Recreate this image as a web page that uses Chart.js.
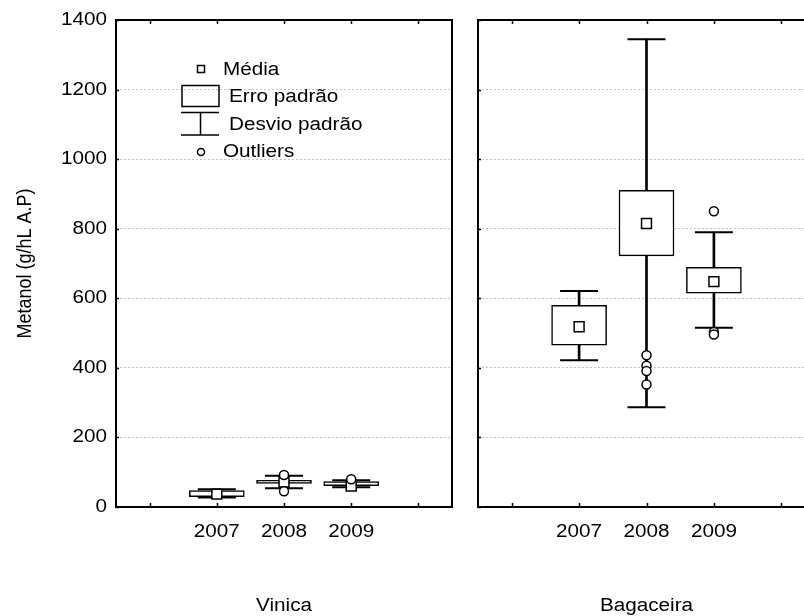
<!DOCTYPE html>
<html><head><meta charset="utf-8">
<script src="https://cdn.jsdelivr.net/npm/chart.js@4/dist/chart.umd.min.js"></script>
<style>
html,body{margin:0;padding:0;background:#fff;overflow:hidden;width:804px;height:616px;}
#wrap{position:relative;width:804px;height:616px;overflow:hidden;background:#fff;}
#c1{position:absolute;left:0;top:0;}
#c2{position:absolute;left:465px;top:0;}
</style></head><body>
<div id="wrap"><canvas id="c1" width="465" height="616"></canvas><canvas id="c2" width="360" height="616"></canvas></div>
<script>
// ---- data ----
const categories = ['', '2007', '2008', '2009', ''];
const yTickValues = [0, 200, 400, 600, 800, 1000, 1200, 1400];
const yAxisTitle = 'Metanol (g/hL A.P)';
const panelTitles = ['Vinica', 'Bagaceira'];
const legendLabels = ['Média', 'Erro padrão', 'Desvio padrão', 'Outliers'];

// Vinica
const vinicaMean   = [null, 37, 72, 60, null];
const vinicaSeLow  = [null, 30, 68, 61, null];
const vinicaSeHigh = [null, 47, 77, 73, null];
const vinicaSdLow  = [null, 27, 54, 57, null];
const vinicaSdHigh = [null, 51, 90, 77, null];
const vinicaOutlierCats = ['2008', '2008', '2009'];
const vinicaOutlierVals = [92, 45, 80];

// Bagaceira
const bagMean   = [null, 518, 815, 648, null];
const bagSeLow  = [null, 465, 722, 615, null];
const bagSeHigh = [null, 580, 910, 689, null];
const bagSdLow  = [null, 422, 287, 515, null];
const bagSdHigh = [null, 621, 1345, 790, null];
const bagOutlierCats = ['2008', '2008', '2008', '2008', '2009', '2009', '2009'];
const bagOutlierVals = [436, 406, 391, 352, 850, 503, 496];

// ---- rendering ----
const FONT = "'Liberation Sans', Arial, sans-serif";
const FONT_SIZE = 18;
const TEXT_STRETCH = 1.15; // reference text is drawn horizontally widened
Chart.defaults.font.family = FONT;
Chart.defaults.color = '#000';

function widenText(canvas, s) {
  const ctx = canvas.getContext('2d');
  const origFill = ctx.fillText;
  const origMeasure = ctx.measureText;
  ctx.fillText = function (text, x, y, maxWidth) {
    const m = this.getTransform();
    const p = m.transformPoint(new DOMPoint(x, y));
    this.save();
    this.setTransform(new DOMMatrix([s, 0, 0, 1, p.x * (1 - s), 0]).multiply(m));
    if (maxWidth === undefined) origFill.call(this, text, x, y);
    else origFill.call(this, text, x, y, maxWidth);
    this.restore();
  };
  ctx.measureText = function (text) {
    const r = origMeasure.call(this, text);
    return {
      width: r.width * s,
      actualBoundingBoxAscent: r.actualBoundingBoxAscent,
      actualBoundingBoxDescent: r.actualBoundingBoxDescent,
      actualBoundingBoxLeft: r.actualBoundingBoxLeft * s,
      actualBoundingBoxRight: r.actualBoundingBoxRight * s,
      fontBoundingBoxAscent: r.fontBoundingBoxAscent,
      fontBoundingBoxDescent: r.fontBoundingBoxDescent
    };
  };
}

const frame = {
  id: 'frame',
  afterDatasetsDraw(chart) {
    const {ctx, chartArea: a, scales} = chart;
    ctx.save();
    ctx.strokeStyle = '#000';
    ctx.lineWidth = 1.5;
    ctx.beginPath();
    const xs = scales.x;
    for (let i = 0; i < xs.ticks.length; i++) {
      const px = Math.round(xs.getPixelForTick(i)) + 0.5;
      ctx.moveTo(px, a.bottom); ctx.lineTo(px, a.bottom - 4);
      ctx.moveTo(px, a.top); ctx.lineTo(px, a.top + 4);
    }
    const ys = scales.y;
    yTickValues.forEach(v => {
      const py = Math.round(ys.getPixelForValue(v)) + 0.5;
      ctx.moveTo(a.left, py); ctx.lineTo(a.left + 3, py);
    });
    ctx.stroke();
    ctx.lineWidth = 2;
    ctx.strokeRect(a.left, a.top, a.right - a.left, a.bottom - a.top);
    ctx.restore();
  }
};

const legendPlugin = {
  id: 'boxLegend',
  afterDraw(chart) {
    const ctx = chart.ctx;
    ctx.save();
    ctx.strokeStyle = '#000';
    ctx.fillStyle = '#fff';
    ctx.lineWidth = 1.5;
    ctx.fillRect(197.5, 65.5, 7, 7);
    ctx.strokeRect(197.5, 65.5, 7, 7);
    ctx.strokeRect(182, 85.5, 37, 21);
    ctx.beginPath();
    ctx.moveTo(181, 112.5); ctx.lineTo(219, 112.5);
    ctx.moveTo(200.5, 112.5); ctx.lineTo(200.5, 135);
    ctx.moveTo(181, 135); ctx.lineTo(219, 135);
    ctx.stroke();
    ctx.beginPath();
    ctx.arc(201, 152, 3.5, 0, Math.PI * 2);
    ctx.fill(); ctx.stroke();
    ctx.fillStyle = '#000';
    ctx.font = FONT_SIZE + 'px ' + FONT;
    ctx.textBaseline = 'middle';
    ctx.textAlign = 'left';
    ctx.fillText(legendLabels[0], 223, 70);
    ctx.fillText(legendLabels[1], 229, 97);
    ctx.fillText(legendLabels[2], 229, 125);
    ctx.fillText(legendLabels[3], 223, 152);
    ctx.restore();
  }
};

function pairs(lo, hi) { return lo.map((v, i) => v == null ? null : [v, hi[i]]); }
function pts(cats, vals) { return cats.map((c, i) => ({x: c, y: vals[i]})); }

function makeChart(id, d, isLeft) {
  const canvas = document.getElementById(id);
  widenText(canvas, TEXT_STRETCH);
  const plugins = [frame];
  if (isLeft) plugins.push(legendPlugin);
  return new Chart(canvas, {
    type: 'bar',
    data: {
      labels: categories,
      datasets: [
        {type: 'bar', data: pairs(d.sdLow, d.sdHigh), backgroundColor: '#000', borderWidth: 0,
         barThickness: 2, grouped: false, order: 5},
        {type: 'bar', data: pairs(d.seLow, d.seHigh), backgroundColor: '#fff', borderColor: '#000',
         borderWidth: 1.5, borderSkipped: false, barThickness: 55, grouped: false, order: 4},
        {type: 'line', data: d.sdHigh, showLine: false, pointStyle: 'line', pointRadius: 19,
         borderColor: '#000', pointBorderColor: '#000', pointBorderWidth: 2, order: 3},
        {type: 'line', data: d.sdLow, showLine: false, pointStyle: 'line', pointRadius: 19,
         borderColor: '#000', pointBorderColor: '#000', pointBorderWidth: 2, order: 3},
        {type: 'line', data: d.mean, showLine: false, pointStyle: 'rect', pointRadius: 7,
         pointBackgroundColor: '#fff', pointBorderColor: '#000', pointBorderWidth: 1.5, order: 1},
        {type: 'line', data: pts(d.outCats, d.outVals), showLine: false, pointStyle: 'circle', pointRadius: 4.5,
         pointBackgroundColor: '#fff', pointBorderColor: '#000', pointBorderWidth: 1.5, order: 0}
      ]
    },
    options: {
      responsive: false,
      animation: false,
      events: [],
      layout: {autoPadding: false, padding: {top: 20, right: isLeft ? 13 : 10, bottom: 0, left: 0}},
      plugins: {legend: {display: false}, tooltip: {enabled: false}},
      scales: {
        x: {
          type: 'category', offset: true,
          grid: {display: false, drawTicks: false},
          border: {display: false},
          ticks: {font: {size: FONT_SIZE}, padding: 14, autoSkip: false, maxRotation: 0},
          title: {display: true, text: d.title, font: {size: FONT_SIZE}, padding: {top: 4, bottom: -1}},
          afterFit: s => { s.height = 109; }
        },
        y: {
          min: 0, max: 1400,
          afterBuildTicks: s => { s.ticks = yTickValues.map(v => ({value: v})); },
          grid: {
            drawTicks: false,
            color: c => (c.tick && (c.tick.value === 0 || c.tick.value === 1400)) ? 'rgba(0,0,0,0)' : '#c4c4c4',
            lineWidth: 1
          },
          border: {display: false, dash: [2, 2]},
          ticks: {display: isLeft, font: {size: FONT_SIZE}, padding: 9, callback: v => String(v)},
          title: {display: isLeft, text: yAxisTitle, font: {size: FONT_SIZE}, padding: {top: 14, bottom: 0}},
          afterFit: s => { s.width = isLeft ? 116 : 13; }
        }
      }
    },
    plugins
  });
}

makeChart('c1', {mean: vinicaMean, seLow: vinicaSeLow, seHigh: vinicaSeHigh, sdLow: vinicaSdLow,
  sdHigh: vinicaSdHigh, outCats: vinicaOutlierCats, outVals: vinicaOutlierVals, title: panelTitles[0]}, true);
makeChart('c2', {mean: bagMean, seLow: bagSeLow, seHigh: bagSeHigh, sdLow: bagSdLow,
  sdHigh: bagSdHigh, outCats: bagOutlierCats, outVals: bagOutlierVals, title: panelTitles[1]}, false);
</script>
</body></html>
